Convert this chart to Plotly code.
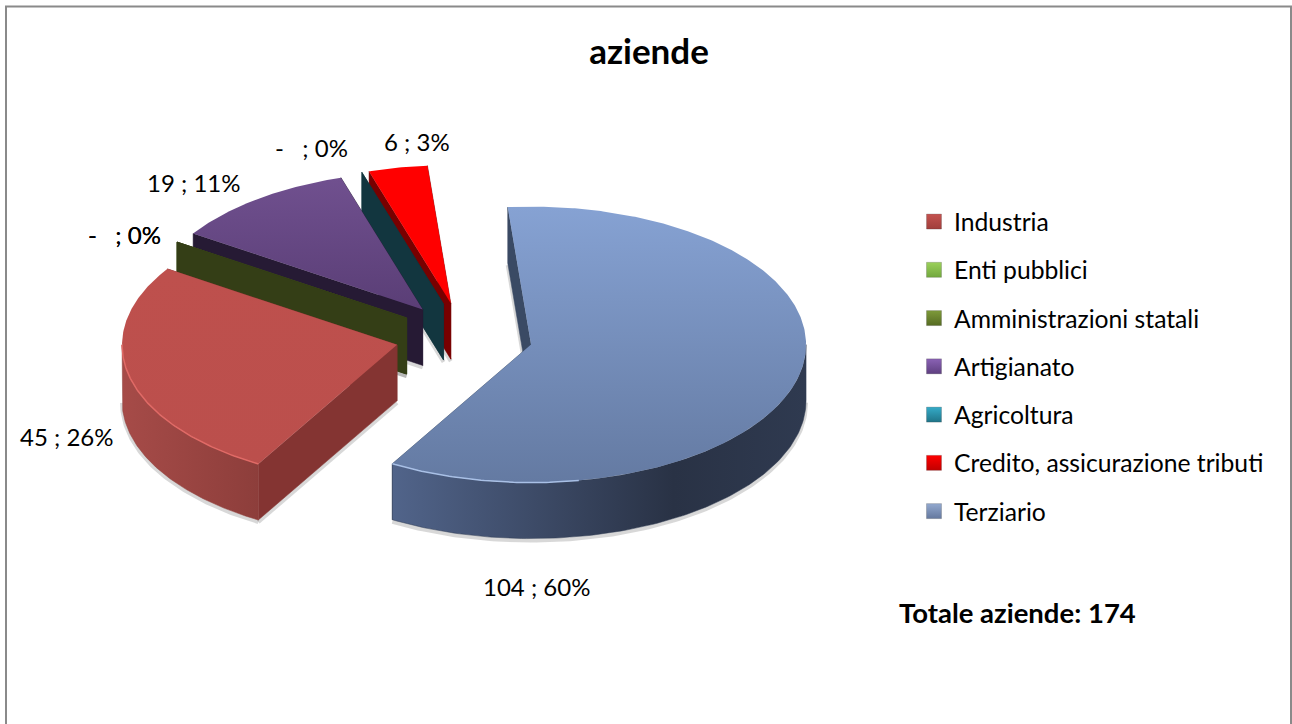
import numpy as np
import plotly.graph_objects as go

# ---- data ----
categories = ["Industria", "Enti pubblici", "Amministrazioni statali", "Artigianato",
              "Agricoltura", "Credito, assicurazione tributi", "Terziario"]
values = [45, 0, 0, 19, 0, 6, 104]
total_label = "Totale aziende: 174"
title = "aziende"

# ---- styles ----
FONT = "Lato, Carlito, Calibri, sans-serif"
legend_colors = ["#C4524F", "#9BD05A", "#7E9A3A", "#8A62B4", "#35ABC8", "#FF0000", "#93A9CF"]
legend_shades = ["#A03E3B", "#72A83E", "#566B22", "#5E3F80", "#1F7488", "#C00000", "#64789E"]
# vertical gradients run upward on the reversed pixel axis: [bottom, top]
face_scales = [["#BB4F4C", "#BE504D"], ["#8AA84E", "#9BBB59"], ["#45561F", "#4F6228"],
               ["#5A3E76", "#70508F"], ["#1E5060", "#1E5060"], ["#FF0000", "#FF0000"],
               ["#647AA2", "#86A2D3"]]
wall_scales = [[[0, "#A64B48"], [1, "#8D3E3B"]], [[0, "#586B2E"], [1, "#4A5A25"]],
               [[0, "#3B451A"], [1, "#2D3612"]], [[0, "#2A1C3A"], [1, "#24182F"]],
               [[0, "#17404E"], [1, "#0F303B"]], [[0, "#800000"], [1, "#700000"]],
               [[0, "#51648A"], [0.68, "#293245"], [1, "#2F3A50"]]]
edge_walls = ["#843432", "#4A5A25", "#343E16", "#261A34", "#12363F", "#780000", "#3A4A64"]
rim_colors = ["#E06A66", None, None, None, None, None, "#A9C0E6"]
label_pos = [(66, 436), (124, 234), (124, 234), (193, 182), (311, 147), (417, 141), (536, 586)]
draw_order = [5, 4, 3, 1, 2, 0, 6]

# ---- pie geometry ----
CX, CY, RX, RY, DEPTH, PULL, START = 464, 337, 275, 138, 56, 0.25, 210.3
SHADOW = dict(width=4, color="rgba(60,60,60,0.2)")


def pt(theta, ox, oy, dy=0.0):
    t = np.radians(theta)
    return ox + RX * np.sin(t), oy - RY * np.cos(t) + dy


def poly(trace_x, trace_y, **kw):
    return go.Scatter(x=list(trace_x), y=list(trace_y), mode="lines", hoverinfo="skip",
                      showlegend=False, **kw)


total = sum(values)
spans = [v / total * 360 for v in values]
starts = START + np.concatenate([[0], np.cumsum(spans)[:-1]])

glow, body, rims = [], [], []
for i in draw_order:
    a0, a1 = starts[i], starts[i] + spans[i]
    mid = (a0 + a1) / 2
    ox = CX + PULL * RX * np.sin(np.radians(mid))
    oy = CY - PULL * RY * np.cos(np.radians(mid))

    # radial walls: closing edge first, opening edge on top
    for ang in (a1, a0):
        ex, ey = pt(ang, ox, oy)
        col = edge_walls[i]
        body.append(poly([ox, ex, ex, ox, ox], [oy, ey, ey + DEPTH, oy + DEPTH, oy],
                         fill="toself", fillcolor=col, line=dict(width=0.5, color=col)))
    glow.append(poly([ex, ox], [ey + DEPTH + 2, oy + DEPTH + 2], line=SHADOW))

    # outer wall: only the part of the rim that faces the viewer
    for shift in (0, 360, -360):
        l2, h2 = max(a0 + shift, 90), min(a1 + shift, 270)
        if h2 > l2:
            front = np.linspace(l2, h2, 120)
            tx, ty = pt(front, ox, oy)
            sx, sy = pt(front, ox, oy, DEPTH + 2)
            glow.append(poly(sx, sy, line=SHADOW))
            body.append(poly(np.concatenate([tx, tx[::-1], tx[:1]]),
                             np.concatenate([ty, ty[::-1] + DEPTH, ty[:1]]),
                             fill="toself", line=dict(width=0.5, color=wall_scales[i][-1][1]),
                             fillgradient=dict(type="horizontal", colorscale=wall_scales[i])))
            if rim_colors[i]:
                rim = front if i == 0 else np.linspace(170, h2, 60)
                rx_, ry_ = pt(rim, ox, oy)
                rims.append(poly(rx_, ry_, line=dict(width=1.5, color=rim_colors[i])))

    # top face
    if spans[i] > 0:
        fx, fy = pt(np.linspace(a0, a1, int(spans[i] * 2)), ox, oy)
        body.append(poly(np.concatenate([[ox], fx, [ox]]), np.concatenate([[oy], fy, [oy]]),
                         fill="toself", line=dict(width=0),
                         fillgradient=dict(type="vertical",
                                           colorscale=[[0, face_scales[i][0]], [1, face_scales[i][1]]])))

fig = go.Figure()
fig.add_traces(glow)
fig.add_traces(body)
fig.add_traces(rims)

# legend entries
for name, col, shade in zip(categories, legend_colors, legend_shades):
    fig.add_trace(go.Scatter(x=[None], y=[None], mode="markers", name=name, legendgroup=name,
                             marker=dict(symbol="square", size=15, color=col,
                                         gradient=dict(type="vertical", color=shade),
                                         line=dict(width=0.5, color="rgba(60,60,60,0.45)"))))

# data labels
for v, p, (lx, ly) in zip(values, [v / total * 100 for v in values], label_pos):
    txt = f"{v} ; {p:.0f}%" if v else "-\u00a0\u00a0\u00a0; 0%"
    fig.add_annotation(x=lx, y=ly, text=txt, showarrow=False, xanchor="center", yanchor="middle",
                       font=dict(family=FONT, size=24, color="#000000"))

fig.add_annotation(x=1017, y=612, text=f"<b>{total_label}</b>", showarrow=False,
                   xanchor="center", yanchor="middle",
                   font=dict(family=FONT, size=27.5, color="#000000"))

fig.update_layout(
    width=1292, height=724, margin=dict(l=0, r=0, t=0, b=0),
    paper_bgcolor="#FFFFFF", plot_bgcolor="#FFFFFF",
    title=dict(text=f"<b>{title}</b>", x=649 / 1292, y=1 - 52 / 724, xanchor="center", yanchor="middle",
               font=dict(family=FONT, size=35, color="#000000")),
    xaxis=dict(range=[0, 1292], visible=False, fixedrange=True),
    yaxis=dict(range=[724, 0], visible=False, fixedrange=True),
    legend=dict(x=914 / 1292, y=1 - 199 / 724, xanchor="left", yanchor="top", tracegroupgap=13.15,
                itemwidth=30, bgcolor="rgba(0,0,0,0)",
                font=dict(family=FONT, size=24.7, color="#000000")),
    shapes=[dict(type="path", path="M 6,760 L 6,6.5 L 1291,6.5 L 1291,760", xref="x", yref="y",
                 line=dict(color="#8A8A8A", width=2))],
)

fig.write_html("out.html", config=dict(displayModeBar=False),
               post_script="document.body.style.margin='0';document.documentElement.style.overflow='hidden';")
